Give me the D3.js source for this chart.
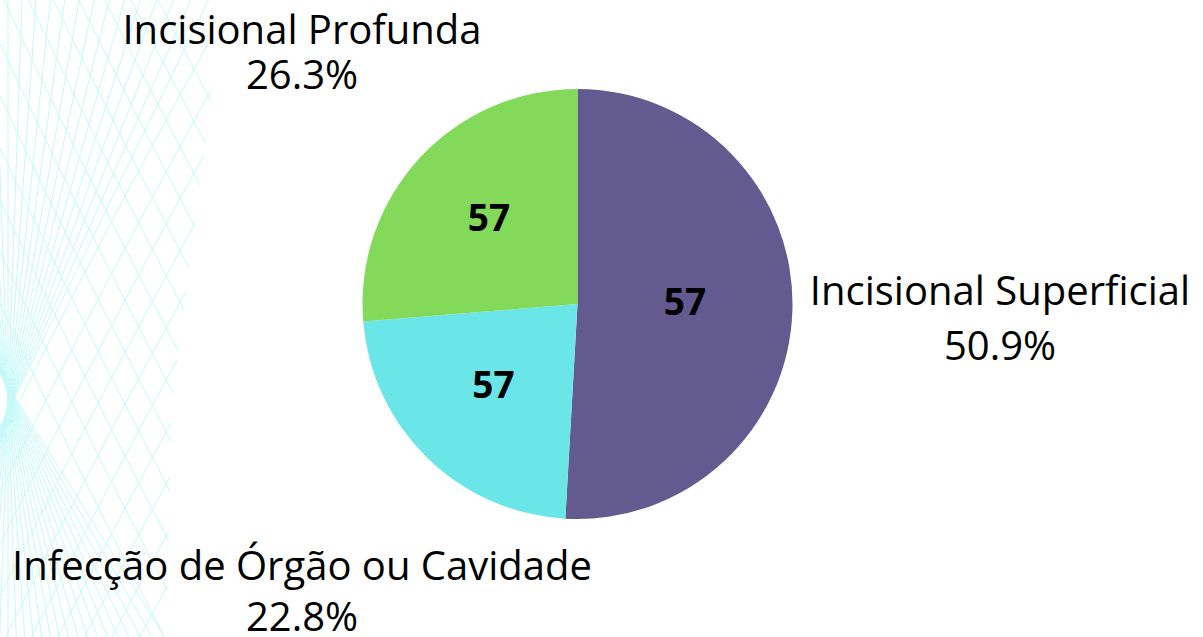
<!DOCTYPE html>
<html>
<head>
<meta charset="utf-8">
<script src="https://cdn.jsdelivr.net/npm/d3@7"></script>
<style>
  html, body { margin: 0; padding: 0; background: #fff; }
  svg { display: block; font-family: "Open Sans", sans-serif; }
</style>
</head>
<body>
<div id="chart"></div>
<script>
// data
var categories = ["Incisional Superficial", "Infecção de Órgão ou Cavidade", "Incisional Profunda"];
var percents = [50.9, 22.8, 26.3];
var insideLabels = ["57", "57", "57"];
var colors = ["#635a8f", "#6ae5e8", "#82d95a"];

var width = 1203, height = 637;
var cx = 577.5, cy = 304, radius = 215;

var svg = d3.select("#chart").append("svg")
  .attr("width", width)
  .attr("height", height);

// faint decorative string-art on the left edge
svg.append("clipPath").attr("id", "decoClip")
  .append("path").attr("d", "M0,0L224,0L172,400L166,637L0,637Z");

var deco = svg.append("g")
  .attr("clip-path", "url(#decoClip)")
  .attr("fill", "none")
  .attr("stroke", "#c4f9f9")
  .attr("stroke-width", 1);

var seg = d3.line().curve(d3.curveBasis);
// fan of lines tangent to a small circle just off the left edge
d3.range(-32, 27.1, 2).forEach(function(deg) {
  var ph = deg * Math.PI / 180;
  var px = -40 + 48 * Math.cos(ph), py = 400 + 48 * Math.sin(ph);
  var k = -Math.tan(ph);
  var pts = [-50, py, 700].map(function(y) { return [px + k * (y - py), y]; });
  deco.append("path").attr("d", seg(pts));
});
// crossing strands
d3.range(-320, 340, 52).forEach(function(y0) {
  deco.append("path").attr("d", seg([[0, y0], [95, y0 + 200], [210, y0 + 420]]));
});
d3.range(440, 1120, 52).forEach(function(y0) {
  deco.append("path").attr("d", seg([[0, y0], [95, y0 - 190], [210, y0 - 400]]));
});

var data = categories.map(function(c, i) {
  return { name: c, pct: percents[i], inside: insideLabels[i], color: colors[i] };
});

var pie = d3.pie().sort(null).value(function(d) { return d.pct; });
var arcs = pie(data);

var arc = d3.arc().innerRadius(0).outerRadius(radius);

var g = svg.append("g").attr("transform", "translate(" + cx + "," + cy + ")");

g.selectAll("path.slice")
  .data(arcs)
  .enter().append("path")
  .attr("class", "slice")
  .attr("d", arc)
  .attr("fill", function(d) { return d.data.color; });

// inside value labels
g.selectAll("text.inside")
  .data(arcs)
  .enter().append("text")
  .attr("class", "inside")
  .attr("transform", function(d) {
    var frac = (d.endAngle - d.startAngle) / (2 * Math.PI);
    var r = radius * (frac > 0.4 ? 0.5 : 0.56);
    var a = (d.startAngle + d.endAngle) / 2;
    return "translate(" + (Math.sin(a) * r) + "," + (-Math.cos(a) * r) + ")";
  })
  .attr("text-anchor", "middle")
  .attr("dy", "0.22em")
  .attr("font-size", 37)
  .attr("font-weight", "bold")
  .attr("fill", "#000")
  .text(function(d) { return d.data.inside; });

// outside labels: centre x and the two baselines for each slice
var outsidePos = [[1000, 305, 360], [302, 580, 631], [302, 44, 89]];

var outer = svg.selectAll("g.outer")
  .data(arcs)
  .enter().append("g")
  .attr("class", "outer");

outer.append("text")
  .attr("text-anchor", "middle")
  .attr("x", function(d, i) { return outsidePos[i][0]; })
  .attr("y", function(d, i) { return outsidePos[i][1]; })
  .attr("font-size", 40)
  .attr("fill", "#000")
  .text(function(d) { return d.data.name; });

outer.append("text")
  .attr("text-anchor", "middle")
  .attr("x", function(d, i) { return outsidePos[i][0]; })
  .attr("y", function(d, i) { return outsidePos[i][2]; })
  .attr("font-size", 40)
  .attr("fill", "#000")
  .text(function(d) { return d3.format(".1f")(d.data.pct) + "%"; });
</script>
</body>
</html>
